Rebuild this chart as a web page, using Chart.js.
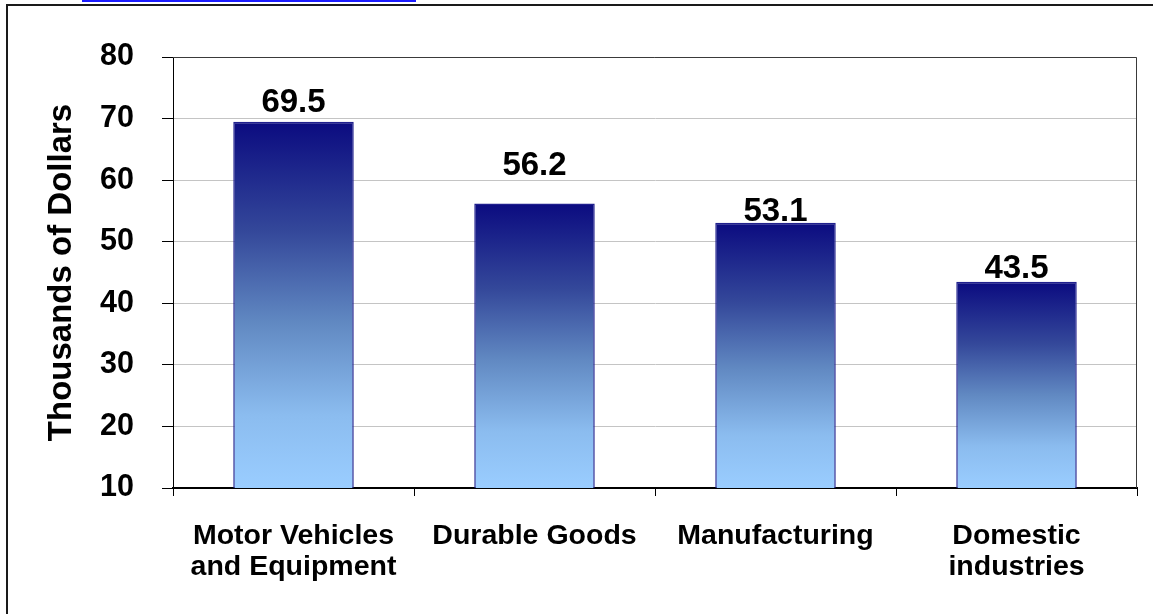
<!DOCTYPE html>
<html lang="en">
<head>
    <meta charset="UTF-8">
    <title>Average earnings by industry</title>
    <script src="https://cdn.jsdelivr.net/npm/chart.js"></script>
    <style>
        html, body {
            margin: 0;
            padding: 0;
            background: #ffffff;
            overflow: hidden;
        }

        .link-line {
            position: absolute;
            left: 82px;
            top: 0;
            width: 334px;
            height: 2px;
            background-color: #1a1aff;
        }

        .frame {
            position: absolute;
            left: 6px;
            top: 4px;
            width: 1170px;
            height: 640px;
            border: 2px solid #1a1a1a;
        }

        .chart-box {
            position: absolute;
            left: 0;
            top: 0;
            width: 1153px;
            height: 614px;
        }
    </style>
</head>
<body>
    <div class="link-line"></div>
    <div class="frame"></div>
    <div class="chart-box">
        <canvas id="earningsChart"></canvas>
    </div>

    <script>
        const categories = [
            ['Motor Vehicles', 'and Equipment'],
            'Durable Goods',
            'Manufacturing',
            ['Domestic', 'industries']
        ];
        const earnings = [69.5, 56.2, 53.1, 43.5];
        const yMin = 10;
        const yMax = 80;
        const yStep = 10;

        const FONT = '"Liberation Sans", Arial, sans-serif';

        // navy at the top of each bar fading to light sky blue at the base
        function barGradient(context) {
            const chart = context.chart;
            if (!chart.chartArea || context.type !== 'data') return '#5f86c0';
            const yScale = chart.scales.y;
            const top = yScale.getPixelForValue(context.raw);
            const base = yScale.getPixelForValue(yMin);
            const g = chart.ctx.createLinearGradient(0, top, 0, base);
            g.addColorStop(0, '#0b0b80');
            g.addColorStop(0.3, '#34489a');
            g.addColorStop(0.55, '#6189c2');
            g.addColorStop(0.8, '#8bbcef');
            g.addColorStop(1, '#9acdff');
            return g;
        }

        // dark top and right edges of the plot area
        const plotFrame = {
            id: 'plotFrame',
            beforeDatasetsDraw(chart) {
                const { ctx, chartArea } = chart;
                ctx.save();
                ctx.strokeStyle = '#3a3a3a';
                ctx.lineWidth = 1;
                ctx.beginPath();
                ctx.moveTo(chartArea.left, chartArea.top + 0.5);
                ctx.lineTo(chartArea.right - 0.5, chartArea.top + 0.5);
                ctx.lineTo(chartArea.right - 0.5, chartArea.bottom);
                ctx.stroke();
                ctx.restore();
            }
        };

        // thin white strip at each bar's foot, then the value above the bar
        const barValues = {
            id: 'barValues',
            afterDatasetsDraw(chart, args, opts) {
                const { ctx } = chart;
                const meta = chart.getDatasetMeta(0);
                ctx.save();
                meta.data.forEach((bar, i) => {
                    const half = bar.width / 2;
                    ctx.fillStyle = '#ffffff';
                    ctx.fillRect(bar.x - half + 2, bar.base - 3, bar.width - 4, 2);

                    const size = opts.size;
                    ctx.font = 'bold ' + size + 'px ' + FONT;
                    ctx.fillStyle = '#000000';
                    ctx.textAlign = 'center';
                    ctx.textBaseline = 'alphabetic';
                    const lift = opts.lift[i] || 20;
                    ctx.fillText(earnings[i].toFixed(1), bar.x, bar.y - lift + size * 0.358);
                });
                ctx.restore();
            }
        };

        new Chart(document.getElementById('earningsChart'), {
            type: 'bar',
            data: {
                labels: categories,
                datasets: [{
                    data: earnings,
                    backgroundColor: barGradient,
                    borderColor: '#20208e',
                    borderWidth: 1.5,
                    borderSkipped: 'start',
                    barPercentage: 0.5,
                    categoryPercentage: 1.0
                }]
            },
            options: {
                responsive: true,
                maintainAspectRatio: false,
                animation: false,
                events: [],
                layout: {
                    padding: { top: 57, left: 42, right: 16, bottom: 0 }
                },
                plugins: {
                    legend: { display: false },
                    tooltip: { enabled: false },
                    barValues: { size: 33, lift: [21, 40, 13, 16] }
                },
                scales: {
                    x: {
                        offset: true,
                        grid: {
                            offset: true,
                            drawOnChartArea: false,
                            drawTicks: true,
                            tickLength: 8,
                            tickColor: '#000000',
                            tickWidth: 1
                        },
                        border: { color: '#000000', width: 2 },
                        ticks: {
                            color: '#000000',
                            font: { family: FONT, size: 28.5, weight: 'bold', lineHeight: 1.1 },
                            padding: 24,
                            maxRotation: 0,
                            autoSkip: false
                        },
                        afterFit(scale) {
                            scale.height = 126;
                        }
                    },
                    y: {
                        min: yMin,
                        max: yMax,
                        grid: {
                            color: '#c4c4c4',
                            lineWidth: 1,
                            tickColor: '#000000',
                            tickLength: 11
                        },
                        border: { color: '#000000', width: 1 },
                        ticks: {
                            stepSize: yStep,
                            color: '#000000',
                            font: { family: FONT, size: 30.5, weight: 'bold' },
                            padding: 28
                        },
                        title: {
                            display: true,
                            text: 'Thousands of Dollars',
                            color: '#000000',
                            font: { family: FONT, size: 33, weight: 'bold' },
                            padding: 0
                        },
                        afterFit(scale) {
                            scale.width = 131;
                        }
                    }
                }
            },
            plugins: [plotFrame, barValues]
        });
    </script>
</body>
</html>
